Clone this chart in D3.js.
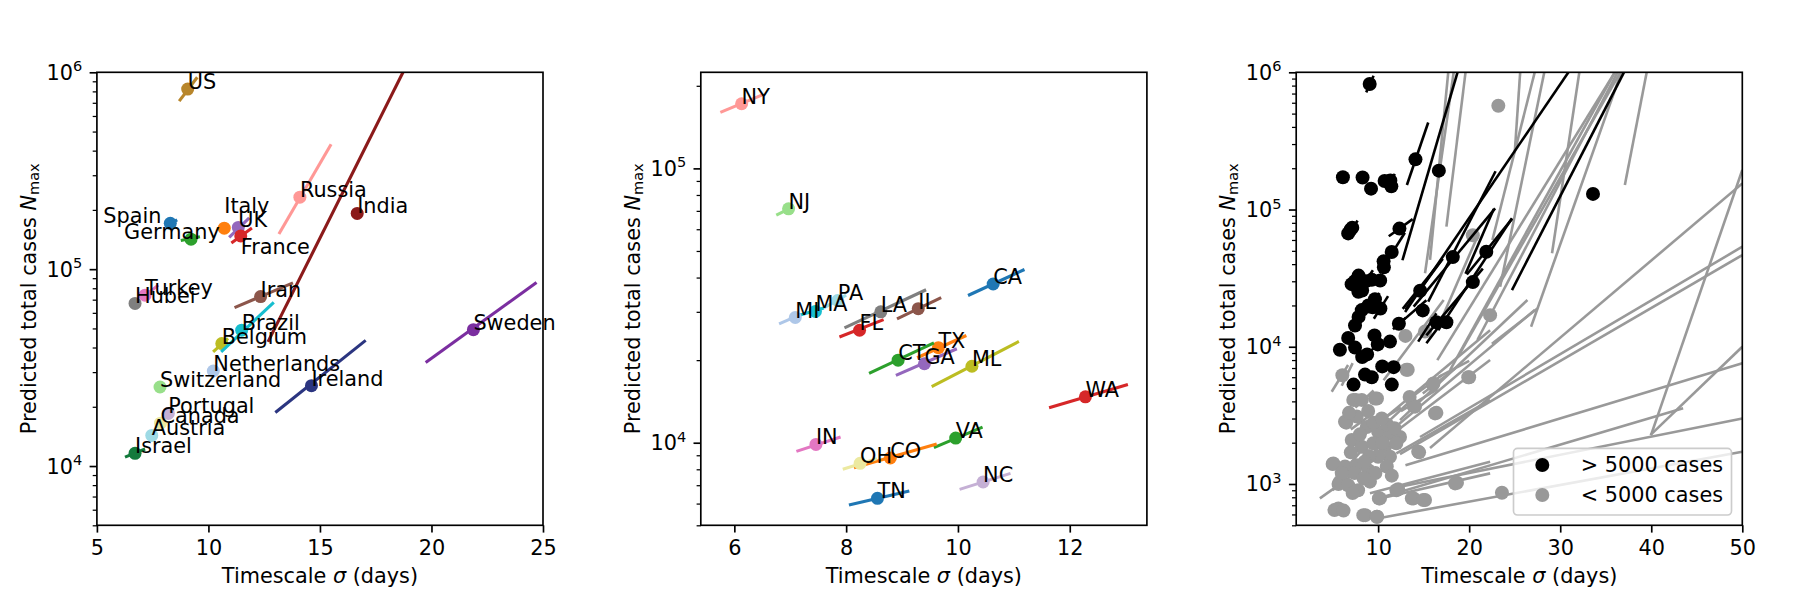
<!DOCTYPE html>
<html lang="en">
<head>
<meta charset="UTF-8">
<title>Predicted total cases vs timescale</title>
<style>
  body { margin: 0; padding: 0; background: #fff; overflow: hidden; }
  svg { display: block; }
  text { font-family: "DejaVu Sans", sans-serif; }
</style>
</head>
<body>
<script src="https://d3js.org/d3.v7.min.js"></script>
<script>
// ---- panel 1: countries ----
const countryNames = ["US", "Spain", "Italy", "Germany", "UK", "France", "Russia", "India", "Iran", "Turkey",
  "Hubei", "Belgium", "Brazil", "Netherlands", "Switzerland", "Ireland", "Sweden", "Portugal", "Canada", "Austria", "Israel"];
const countrySigma = [9.07, 8.29, 10.71, 9.22, 11.34, 11.45, 14.10, 16.67, 12.34, 7.16,
  6.71, 10.6, 11.49, 10.22, 7.83, 14.62, 21.88, 8.2, 7.85, 7.46, 6.71];
const countryNmax = [822000, 171000, 161500, 142000, 163000, 147600, 232000, 192000, 72600, 73800,
  67000, 41900, 49000, 30400, 25200, 25600, 49300, 18500, 16500, 14300, 11600];
// fit uncertainty segments: [sigma lo, N lo, sigma hi, N hi]
const countrySegs = [
  [8.69, 714000, 9.50, 944000], [8.1, 166000, 8.6, 178000], [10.5, 156000, 10.9, 168000],
  [8.76, 140000, 9.62, 146000], [10.93, 145000, 11.83, 182000], [11.03, 136000, 11.95, 162000],
  [13.16, 151000, 15.50, 431000], [12.67, 42700, 19.6, 1580000], [11.17, 63800, 13.79, 85200],
  [7.0, 71000, 7.75, 83000], [6.55, 66000, 6.85, 68000], [10.21, 38000, 10.88, 44500],
  [10.57, 38000, 12.93, 67800], [10.0, 29200, 10.45, 31600], [7.7, 24600, 8.0, 25800],
  [13.0, 18700, 17.05, 43500], [19.74, 33600, 24.71, 85500], [8.05, 18000, 8.4, 19000],
  [7.7, 16000, 8.05, 17000], [7.3, 14000, 7.65, 14600], [6.26, 11100, 7.16, 12200]
];
const countryColors = ["#b8862b", "#1f77b4", "#ff7f0e", "#2ca02c", "#9467bd", "#d62728", "#ff9896", "#8b1a1a", "#8c564b", "#e377c2",
  "#7f7f7f", "#bcbd22", "#17becf", "#aec7e8", "#98df8a", "#2b3580", "#7b2ea0", "#c5b0d5", "#ece9a0", "#9edae5", "#137a3c"];
// label shifts: [delta sigma, factor on N]
const countryLabelShift = { Spain: [-3, 1], Germany: [-3, 1], Italy: [0, 1.2], France: [0, 0.81] };

// ---- panel 2: US states ----
const stateNames = ["NY", "NJ", "CA", "PA", "MA", "MI", "LA", "IL", "FL", "TX", "CT", "GA", "ML", "WA", "IN", "VA", "CO", "OH", "NC", "TN"];
const stateSigma = [6.13, 6.97, 10.63, 7.85, 7.45, 7.09, 8.62, 9.29, 8.24, 9.65, 8.93, 9.40, 10.25, 12.28, 7.46, 9.96, 8.79, 8.25, 10.45, 8.56];
const stateNmax = [172000, 71200, 37900, 33000, 30100, 28600, 30000, 30800, 25700, 22200, 20000, 19400, 19000, 14700, 9860, 10400, 8800, 8410, 7190, 6270];
const stateSegs = [
  [5.75, 160000, 6.49, 185000], [6.75, 67500, 7.07, 72700], [10.18, 34400, 11.19, 42800],
  [7.6, 31000, 8.0, 34500], [7.0, 28500, 7.6, 31000], [6.80, 27100, 7.18, 29300],
  [7.97, 26200, 9.43, 36100], [8.91, 28300, 9.70, 33800], [7.88, 24300, 8.67, 28100],
  [9.27, 20400, 10.15, 24600], [8.41, 17900, 9.57, 23100], [8.89, 17600, 9.98, 22000],
  [9.53, 16000, 11.09, 23400], [11.63, 13400, 13.04, 16300], [7.11, 9300, 7.90, 10500],
  [9.57, 9600, 10.44, 11400], [8.14, 8100, 9.62, 9900], [7.94, 8000, 8.55, 8750],
  [10.03, 6760, 10.94, 7730], [8.05, 5930, 9.13, 6670]
];
const stateColors = ["#ff9896", "#98df8a", "#1f77b4", "#9edae5", "#17becf", "#aec7e8", "#7f7f7f", "#8c564b", "#d62728", "#ff7f0e",
  "#2ca02c", "#9467bd", "#bcbd22", "#d62728", "#e377c2", "#2ca02c", "#ff7f0e", "#ece9a0", "#c5b0d5", "#1f77b4"];

// ---- panel 3: all regions (black = > 5000 cases, grey = < 5000 cases) ----
const otherBigSigma = [18.2, 20.4, 14.9, 16.4, 17.5, 33.6, 5.8, 7.3, 11.5, 11.7, 11.3, 9.6, 9.3];
const otherBigNmax = [45000, 29600, 18400, 15100, 15100, 130000, 9500, 5300, 5300, 7100, 10900, 12100, 6000];
const otherBigSegs = [
  [15.5, 21300, 22.9, 190000], [13.9, 19600, 22.85, 102000], [12.96, 17900, 30.9, 1e6],
  [24.7, 25900, 37.0, 1e6], [19.6, 34000, 22.7, 101000], [12.7, 18900, 17.1, 43800],
  [15.3, 12100, 21.5, 37100], [14.4, 10900, 16.4, 17500], [15.3, 10600, 17.5, 16600],
  [12.8, 15700, 15.3, 21800], [16.6, 13200, 24.7, 86300]
];
const smallSigma = [23.2, 20.4, 22.3, 15.15, 13.0, 20.0, 16.0, 16.4, 13.9, 13.46, 14.5, 23.6, 18.66, 13.9, 15.15, 12.2,
  10.08, 8.6, 9.9, 13.25, 9.87, 7.55, 6.07, 6.5, 5.0, 5.65, 5.2, 7.27, 8.2, 9.66, 6.36, 7.65, 8.75, 10.0, 11.3, 12.4,
  7.1, 8.2, 9.47, 10.76, 12.0, 11.3, 10.0, 5.08, 6.36, 7.65, 8.92, 10.95, 5.8, 6.7, 7.8, 9.1, 10.2, 12.0, 13.7, 14.97,
  5.63, 8.37, 9.85, 18.45, 16.07, 19.9, 14.05, 16.25, 14.4, 13.1, 7.0, 8.0, 9.0, 9.5, 10.5, 11.0, 8.5, 9.7, 11.5, 7.4,
  6.0, 6.8, 8.9, 10.4, 11.8, 7.2, 8.4, 6.2];
const smallNmax = [571000, 65000, 17000, 12900, 12000, 6000, 5300, 3300, 3700, 4300, 1700, 863, 1020, 785, 764, 914,
  785, 593, 577, 6800, 4200, 4100, 6200, 2800, 1400, 1000, 645, 4100, 4100, 4200, 2840, 3100, 2600, 2400, 2340, 2200,
  2090, 1870, 1980, 1870, 1980, 1580, 1580, 1410, 1340, 1370, 1260, 1340, 1040, 980, 900, 1040, 785, 900, 785, 764,
  664, 593, 577, 1010, 5400, 6000, 3660, 3270, 1720, 6800, 1700, 2300, 1600, 2800, 2000, 2700, 1450, 1200, 1150, 1200,
  1200, 3300, 3400, 3000, 2550, 860, 1100, 640];
const smallSegs = [
  [15.7, 42900, 17.7, 1e6], [17.5, 75000, 19.6, 1e6], [15.15, 34300, 18.3, 1e6], [25.0, 257000, 25.6, 1e6],
  [22.55, 60000, 27.2, 1e6], [23.4, 27400, 28.25, 1e6], [29.1, 48000, 32.1, 1e6], [20.9, 11200, 36.3, 1e6],
  [26.8, 14000, 36.7, 1e6], [17.9, 6760, 36.0, 1e6], [16.5, 8000, 36.0, 1e6], [19.0, 9000, 36.6, 1e6],
  [37.1, 151000, 39.5, 1e6], [40.0, 2300, 50.0, 194000], [15.7, 1830, 50.0, 155000], [14.6, 2200, 50.0, 53600],
  [12.4, 1650, 50.0, 46600], [39.9, 2270, 50.0, 10000], [13.0, 1370, 50.0, 7570], [12.4, 955, 50.0, 3000],
  [9.9, 561, 50.0, 1720], [9.4, 764, 43.5, 3560], [3.6, 785, 9.5, 1490], [4.9, 4700, 6.7, 7360],
  [9.1, 855, 22.3, 1450], [9.47, 764, 22.3, 1195], [12.0, 1670, 22.3, 4090], [11.7, 2340, 22.3, 8000],
  [10.9, 3090, 22.3, 13200], [10.6, 5710, 17.2, 21900], [10.2, 2090, 27.2, 18500], [12.4, 2920, 26.4, 21900],
  [22.5, 10500, 27.5, 19000], [16.6, 14000, 20.9, 63400], [14.9, 4570, 18.5, 6970], [16.6, 6000, 20.0, 7900],
  [6.0, 1200, 8.0, 1700], [7.0, 2500, 9.5, 3300], [8.5, 1500, 11.5, 2200], [5.0, 900, 7.0, 1200],
  [9.0, 2600, 12.5, 3600], [7.5, 3600, 9.5, 4800], [11.0, 2800, 14.0, 4300], [12.5, 3400, 16.5, 4900],
  [13.0, 4000, 17.0, 6200], [6.0, 5200, 7.2, 7600]
];
const legendLabels = ["> 5000 cases", "< 5000 cases"];

// ---- axes ----
const xTicks1 = [5, 10, 15, 20, 25];
const xTicks2 = [6, 8, 10, 12];
const xTicks3 = [10, 20, 30, 40, 50];
const yTicks1 = [1e4, 1e5, 1e6];
const yTicks2 = [1e4, 1e5];
const yTicks3 = [1e3, 1e4, 1e5, 1e6];
const xLabel = "Timescale ";
const yLabel = "Predicted total cases ";

const width = 1801, height = 601;
const fs = 20.8;
const panelTop = 72.3, panelH = 453, panelW = 446.1;
const panelLefts = [96.9, 700.8, 1296.2];

const svg = d3.select('body').append('svg')
    .attr('width', width)
    .attr('height', height);

function makePanel(i, xDomain, yDomain) {
    const left = panelLefts[i];
    const x = d3.scaleLinear().domain(xDomain).range([left, left + panelW]);
    const y = d3.scaleLog().domain(yDomain).range([panelTop + panelH, panelTop]);
    svg.append('clipPath').attr('id', 'clip' + i)
        .append('rect')
        .attr('x', left).attr('y', panelTop)
        .attr('width', panelW).attr('height', panelH);
    const g = svg.append('g');
    const plot = g.append('g').attr('clip-path', `url(#clip${i})`);
    return { x, y, g, plot, left };
}

function drawAxes(p, xTicks, yTicks) {
    const { x, y, g, left } = p;
    const bottom = panelTop + panelH;

    const xa = g.append('g')
        .attr('transform', `translate(0,${bottom})`)
        .call(d3.axisBottom(x).tickValues(xTicks).tickSize(7.3).tickPadding(7.3).tickFormat(d3.format('d')));
    xa.select('.domain').remove();
    xa.selectAll('line').attr('stroke', '#000').attr('stroke-width', 1.67);
    xa.selectAll('text').attr('font-size', fs).attr('font-family', 'DejaVu Sans').attr('fill', '#000');

    const [lo, hi] = y.domain();
    const minor = [];
    for (let e = Math.floor(Math.log10(lo)); e <= Math.ceil(Math.log10(hi)); e++) {
        for (let k = 2; k <= 9; k++) {
            const v = k * Math.pow(10, e);
            if (v >= lo && v <= hi) minor.push(v);
        }
    }
    const ym = g.append('g')
        .attr('transform', `translate(${left},0)`)
        .call(d3.axisLeft(y).tickValues(minor).tickSize(4.2).tickFormat(''));
    ym.select('.domain').remove();
    ym.selectAll('line').attr('stroke', '#000').attr('stroke-width', 1.25);

    const ya = g.append('g')
        .attr('transform', `translate(${left},0)`)
        .call(d3.axisLeft(y).tickValues(yTicks).tickSize(7.3).tickFormat(''));
    ya.select('.domain').remove();
    ya.selectAll('line').attr('stroke', '#000').attr('stroke-width', 1.67);

    yTicks.forEach(v => {
        const t = g.append('text')
            .attr('x', left - 14.6)
            .attr('y', y(v) + 7.5)
            .attr('text-anchor', 'end')
            .attr('font-size', fs);
        t.append('tspan').text('10');
        t.append('tspan').attr('font-size', fs * 0.7).attr('dy', -8.5).text(Math.round(Math.log10(v)));
    });

    g.append('rect')
        .attr('x', left).attr('y', panelTop)
        .attr('width', panelW).attr('height', panelH)
        .attr('fill', 'none').attr('stroke', '#000').attr('stroke-width', 1.67);

    const xl = g.append('text')
        .attr('x', left + panelW / 2)
        .attr('y', 583)
        .attr('text-anchor', 'middle')
        .attr('font-size', fs);
    xl.append('tspan').text(xLabel);
    xl.append('tspan').attr('font-style', 'italic').text('σ');
    xl.append('tspan').text(' (days)');

    const yl = g.append('text')
        .attr('transform', `translate(${left - 61},${panelTop + panelH / 2}) rotate(-90)`)
        .attr('text-anchor', 'middle')
        .attr('font-size', fs);
    yl.append('tspan').text(yLabel);
    yl.append('tspan').attr('font-style', 'italic').text('N');
    yl.append('tspan').attr('font-size', fs * 0.7).attr('dy', 3).text('max');
}

function drawSeg(plot, x, y, s, color, w) {
    plot.append('line')
        .attr('x1', x(s[0])).attr('y1', y(s[1]))
        .attr('x2', x(s[2])).attr('y2', y(s[3]))
        .attr('stroke', color).attr('stroke-width', w);
}

// panel 1
const p1 = makePanel(0, [5, 25], [5000, 1e6]);
countryNames.forEach((n, i) => {
    drawSeg(p1.plot, p1.x, p1.y, countrySegs[i], countryColors[i], 3.1);
    p1.plot.append('circle')
        .attr('cx', p1.x(countrySigma[i])).attr('cy', p1.y(countryNmax[i]))
        .attr('r', 6.5).attr('fill', countryColors[i]);
});
drawAxes(p1, xTicks1, yTicks1);
countryNames.forEach((n, i) => {
    const sh = countryLabelShift[n] || [0, 1];
    p1.g.append('text')
        .attr('x', p1.x(countrySigma[i] + sh[0]))
        .attr('y', p1.y(countryNmax[i] * sh[1]))
        .attr('font-size', fs)
        .text(n);
});

// panel 2
const p2 = makePanel(1, [5.4, 13.38], [5000, 224000]);
stateNames.forEach((n, i) => {
    drawSeg(p2.plot, p2.x, p2.y, stateSegs[i], stateColors[i], 3.1);
    p2.plot.append('circle')
        .attr('cx', p2.x(stateSigma[i])).attr('cy', p2.y(stateNmax[i]))
        .attr('r', 6.5).attr('fill', stateColors[i]);
});
drawAxes(p2, xTicks2, yTicks2);
stateNames.forEach((n, i) => {
    p2.g.append('text')
        .attr('x', p2.x(stateSigma[i]))
        .attr('y', p2.y(stateNmax[i]))
        .attr('font-size', fs)
        .text(n);
});

// panel 3
const grey = '#999999';
const p3 = makePanel(2, [1, 50], [500, 1e6]);
smallSegs.forEach(s => drawSeg(p3.plot, p3.x, p3.y, s, grey, 2.6));
smallSigma.forEach((s, i) => {
    p3.plot.append('circle')
        .attr('cx', p3.x(s)).attr('cy', p3.y(smallNmax[i]))
        .attr('r', 7).attr('fill', grey);
});
const bigSegs = countrySegs.concat(stateSegs, otherBigSegs);
const bigSigma = countrySigma.concat(stateSigma, otherBigSigma);
const bigNmax = countryNmax.concat(stateNmax, otherBigNmax);
bigSegs.forEach(s => drawSeg(p3.plot, p3.x, p3.y, s, '#000', 2.6));
bigSigma.forEach((s, i) => {
    p3.plot.append('circle')
        .attr('cx', p3.x(s)).attr('cy', p3.y(bigNmax[i]))
        .attr('r', 7).attr('fill', '#000');
});
drawAxes(p3, xTicks3, yTicks3);

// legend
const lg = p3.g.append('g');
lg.append('rect')
    .attr('x', 1513.5).attr('y', 448.3)
    .attr('width', 218).attr('height', 66.7)
    .attr('rx', 4)
    .attr('fill', '#fff').attr('fill-opacity', 0.8)
    .attr('stroke', '#cccccc').attr('stroke-width', 1.67);
legendLabels.forEach((t, i) => {
    lg.append('circle')
        .attr('cx', 1542.3).attr('cy', 465 + i * 30)
        .attr('r', 7).attr('fill', i === 0 ? '#000' : grey);
    lg.append('text')
        .attr('x', 1580.8).attr('y', 472 + i * 30)
        .attr('font-size', fs)
        .text(t);
});
</script>
</body>
</html>
